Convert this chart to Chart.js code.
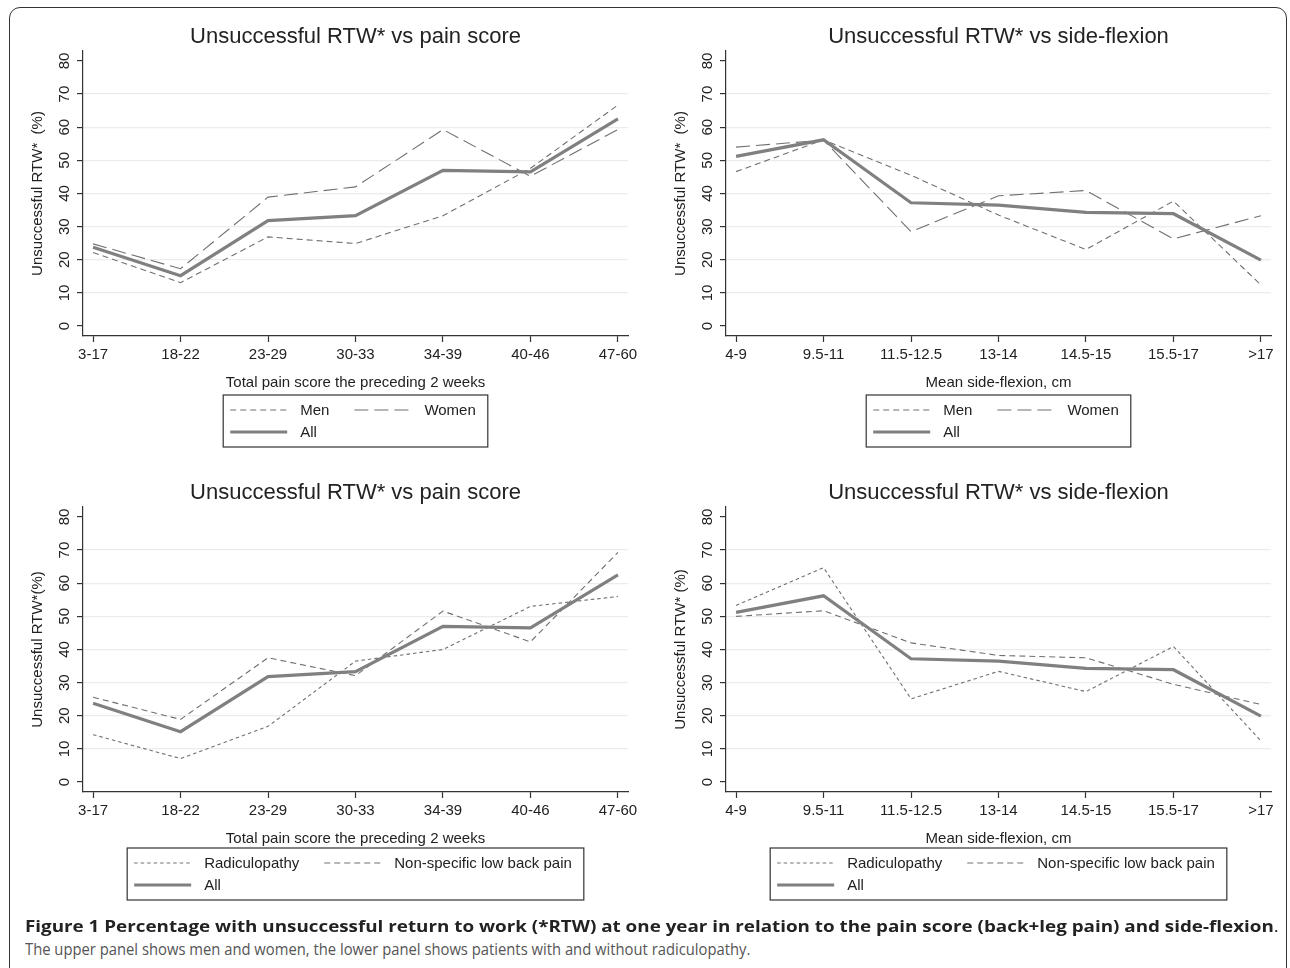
<!DOCTYPE html>
<html>
<head>
<meta charset="utf-8">
<script src="https://cdn.jsdelivr.net/npm/chart.js@4.4.1/dist/chart.umd.min.js"></script>
<style>
body{margin:0;background:#fff;width:1290px;height:968px;overflow:hidden;position:relative;font-family:"Liberation Sans",Arial,sans-serif}
.frame{position:absolute;left:9px;top:7px;width:1276px;height:1000px;border:1.5px solid #333;border-radius:11px}
canvas{position:absolute}
.cap{position:absolute;left:25px;font-family:"Open Sans",sans-serif;white-space:nowrap;transform-origin:0 0}
#cap1{top:915px;font-size:15.5px;font-weight:700;color:#222}
#cap2{top:938px;font-size:15.5px;color:#555}
</style>
</head>
<body>
<div class="frame"></div>
<canvas id="c1" width="645" height="460" style="left:0;top:0"></canvas>
<canvas id="c2" width="645" height="460" style="left:643px;top:0"></canvas>
<canvas id="c3" width="645" height="460" style="left:0;top:456px"></canvas>
<canvas id="c4" width="645" height="460" style="left:643px;top:456px"></canvas>
<div class="cap" id="cap1">Figure 1 Percentage with unsuccessful return to work (*RTW) at one year in relation to the pain score (back+leg pain) and side-flexion<span style="font-weight:400">.</span></div>
<div class="cap" id="cap2">The upper panel shows men and women, the lower panel shows patients with and without radiculopathy.</div>
<script>
// categories
const painCats = ['3-17', '18-22', '23-29', '30-33', '34-39', '40-46', '47-60']
const flexCats = ['4-9', '9.5-11', '11.5-12.5', '13-14', '14.5-15', '15.5-17', '>17']
const yTicks = [0, 10, 20, 30, 40, 50, 60, 70, 80]

// % unsuccessful RTW
const painAll   = [23.8, 15.2, 31.8, 33.3, 47.0, 46.5, 62.5]
const painMen   = [22.2, 13.1, 26.9, 24.9, 33.3, 47.6, 66.7]
const painWomen = [24.8, 17.3, 38.9, 42.0, 59.3, 45.2, 59.3]
const painRad   = [14.3, 7.1, 16.8, 36.5, 40.0, 53.0, 56.0]
const painNon   = [25.6, 18.9, 37.5, 32.1, 51.6, 42.3, 69.3]

const flexAll   = [51.2, 56.2, 37.2, 36.5, 34.3, 33.9, 19.9]
const flexMen   = [46.6, 56.2, 45.5, 33.5, 23.1, 37.7, 12.4]
const flexWomen = [54.0, 56.1, 28.5, 39.3, 40.9, 26.3, 33.3]
const flexRad   = [53.3, 64.7, 25.1, 33.4, 27.3, 40.9, 12.4]
const flexNon   = [50.0, 51.7, 42.0, 38.2, 37.5, 29.5, 23.4]

const FONT = '"Liberation Sans", Arial, sans-serif'
const TXT = '#222'

// title over the plot, rotated y tick labels, boxed legend (stata style)
const extras = {
  id: 'extras',
  afterDraw(chart, args, opts) {
    const ctx = chart.ctx, ys = chart.scales.y, a = chart.chartArea
    const mid = (a.left + a.right) / 2
    ctx.save()
    ctx.fillStyle = TXT
    ctx.textAlign = 'center'
    ctx.textBaseline = 'middle'
    ctx.font = '22px ' + FONT
    ctx.fillText(opts.title, mid, 37)

    ctx.font = '15px ' + FONT
    ys.ticks.forEach(t => {
      ctx.save()
      ctx.translate(ys.right - 18, ys.getPixelForValue(t.value))
      ctx.rotate(-Math.PI / 2)
      ctx.fillText(String(t.value), 0, 0)
      ctx.restore()
    })

    const ds = chart.data.datasets
    const sample = 57, gap = 13, padL = 7, padR = 12, colGap = 25
    const w0 = ctx.measureText(ds[0].label).width
    const w1 = ctx.measureText(ds[1].label).width
    const boxW = padL + sample + gap + w0 + colGap + sample + gap + w1 + padR
    const left = mid - boxW / 2
    const top = opts.top
    ctx.strokeStyle = '#333'
    ctx.lineWidth = 1.2
    ctx.strokeRect(left, top, boxW, 52)
    const col2 = left + padL + sample + gap + w0 + colGap
    const items = [[ds[0], left + padL, top + 15], [ds[1], col2, top + 15], [ds[2], left + padL, top + 37]]
    ctx.textAlign = 'left'
    items.forEach(([d, x, y]) => {
      ctx.strokeStyle = d.borderColor
      ctx.lineWidth = d.borderWidth
      ctx.setLineDash(d.borderDash)
      ctx.beginPath()
      ctx.moveTo(x, y)
      ctx.lineTo(x + sample, y)
      ctx.stroke()
      ctx.setLineDash([])
      ctx.fillText(d.label, x + sample + gap, y + 1)
    })
    ctx.restore()
  }
}

function line(label, values, dash, order) {
  const solid = dash.length === 0
  return {
    label: label,
    data: values.map((v, i) => ({x: i, y: v})),
    borderColor: solid ? '#808080' : '#707070',
    borderWidth: solid ? 3.2 : 1.1,
    borderDash: dash,
    pointRadius: 0,
    tension: 0,
    order: order
  }
}

function panel(id, title, yTitle, xTitle, cats, sets, legendTop, xtPad) {
  new Chart(document.getElementById(id), {
    type: 'line',
    data: {datasets: sets},
    plugins: [extras],
    options: {
      responsive: false,
      animation: false,
      layout: {padding: {left: 0, right: 17, top: 51, bottom: 68}},
      plugins: {
        legend: {display: false},
        tooltip: {enabled: false},
        title: {display: false},
        extras: {top: legendTop, title: title}
      },
      scales: {
        x: {
          type: 'linear', min: -0.115, max: 6.115,
          afterBuildTicks: s => { s.ticks = cats.map((c, i) => ({value: i})) },
          afterFit: s => { s.height = 56 },
          ticks: {callback: v => cats[v], color: TXT, font: {family: FONT, size: 15}, padding: 4, maxRotation: 0},
          grid: {drawOnChartArea: false, tickLength: 6, tickColor: '#333', tickWidth: 1.2},
          border: {color: '#333', width: 1.2},
          title: {display: true, text: xTitle, color: TXT, font: {family: FONT, size: 15}, padding: {top: xtPad, bottom: 0}}
        },
        y: {
          min: -3, max: 83,
          afterBuildTicks: s => { s.ticks = yTicks.map(v => ({value: v})) },
          afterFit: s => { s.width = 83 },
          ticks: {display: false},
          grid: {
            color: c => (c.tick && (c.tick.value === 0 || c.tick.value === 80)) ? 'rgba(0,0,0,0)' : '#ececec',
            lineWidth: 1.2, tickLength: 6, tickColor: '#333', tickWidth: 1.2
          },
          border: {color: '#333', width: 1.2},
          title: {display: true, text: yTitle, color: TXT, font: {family: FONT, size: 15}, padding: {top: 29, bottom: 0}}
        }
      }
    }
  })
}

const solidLine = [], menDash = [6, 4], womenDash = [14, 6], radDash = [3.5, 3], nonDash = [6, 4]

panel('c1', 'Unsuccessful RTW* vs pain score', 'Unsuccessful RTW*  (%)', 'Total pain score the preceding 2 weeks', painCats,
  [line('Men', painMen, menDash, 1), line('Women', painWomen, womenDash, 1), line('All', painAll, solidLine, 0)], 395, 4)
panel('c2', 'Unsuccessful RTW* vs side-flexion', 'Unsuccessful RTW*  (%)', 'Mean side-flexion, cm', flexCats,
  [line('Men', flexMen, menDash, 1), line('Women', flexWomen, womenDash, 1), line('All', flexAll, solidLine, 0)], 395, 4)
panel('c3', 'Unsuccessful RTW* vs pain score', 'Unsuccessful RTW*(%)', 'Total pain score the preceding 2 weeks', painCats,
  [line('Radiculopathy', painRad, radDash, 1), line('Non-specific low back pain', painNon, nonDash, 1), line('All', painAll, solidLine, 0)], 392, 6)
panel('c4', 'Unsuccessful RTW* vs side-flexion', 'Unsuccessful RTW* (%)', 'Mean side-flexion, cm', flexCats,
  [line('Radiculopathy', flexRad, radDash, 1), line('Non-specific low back pain', flexNon, nonDash, 1), line('All', flexAll, solidLine, 0)], 392, 6)

// squeeze caption lines to the width they take in the figure
function fit(id, w) {
  const el = document.getElementById(id)
  el.style.transform = 'scaleX(' + (w / el.offsetWidth) + ')'
}
fit('cap1', 1254)
fit('cap2', 725)
</script>
</body>
</html>
